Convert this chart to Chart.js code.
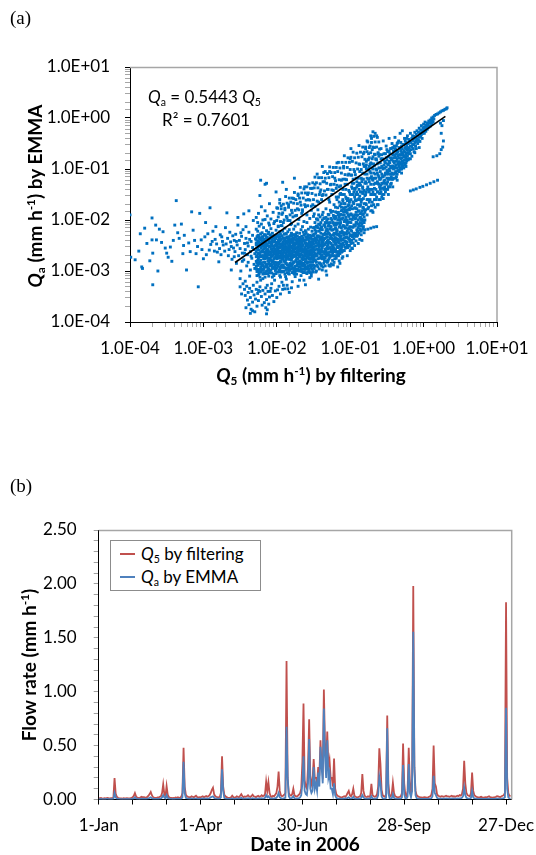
<!DOCTYPE html>
<html><head><meta charset="utf-8">
<script src="https://cdn.jsdelivr.net/npm/chart.js@4"></script>
<style>
html,body{margin:0;padding:0;background:#fff;}
body{width:536px;height:855px;position:relative;overflow:hidden;font-family:Lato,sans-serif;color:#000;}
canvas{position:absolute;left:0;}
#cA{top:0}
#cB{top:440px}
.t{position:absolute;white-space:nowrap;line-height:1;z-index:2;}
.sub{font-size:0.62em;vertical-align:-0.28em;line-height:0;}
.sup{font-size:0.62em;vertical-align:0.55em;line-height:0;}
.panel{font-family:"Liberation Serif",serif;font-size:19px;}
.axt{font-weight:bold;font-size:19px;}
.rot{transform:translate(-50%,-50%) rotate(-90deg);}
.ctr{transform:translate(-50%,-50%);}
.ann{font-size:17px;}
#legend{position:absolute;left:110px;top:540px;width:149px;height:49px;border:1px solid #8c8c8c;background:#fff;z-index:2;font-size:17px;}
#legend .row{position:absolute;left:0;height:20px;width:149px;}
#legend .sw{position:absolute;left:9px;top:9px;width:15px;height:2px;}
#legend .lt{position:absolute;left:30px;top:1px;line-height:1;white-space:nowrap;}
</style></head><body>
<canvas id="cA" width="536" height="440"></canvas>
<canvas id="cB" width="536" height="415"></canvas>

<div class="t panel" style="left:10px;top:8px">(a)</div>
<div class="t ann" style="left:148px;top:88px"><i>Q</i><span class="sub">a</span> = 0.5443 <i>Q</i><span class="sub">5</span></div>
<div class="t ann" style="left:162px;top:111px">R² = 0.7601</div>
<div class="t axt rot" style="left:34px;top:196px"><i>Q</i><span class="sub">a</span> (mm h<span class="sup">-1</span>) by EMMA</div>
<div class="t axt ctr" style="left:311px;top:374px"><i>Q</i><span class="sub">5</span> (mm h<span class="sup">-1</span>) by filtering</div>

<div class="t panel" style="left:10px;top:476px">(b)</div>
<div id="legend">
  <div class="row" style="top:3px"><div class="sw" style="background:#C0504D"></div><div class="lt"><i>Q</i><span class="sub">5</span> by filtering</div></div>
  <div class="row" style="top:26px"><div class="sw" style="background:#4F81BD"></div><div class="lt"><i>Q</i><span class="sub">a</span> by EMMA</div></div>
</div>
<div class="t axt rot" style="left:28px;top:665px">Flow rate (mm h<span class="sup">-1</span>)</div>
<div class="t axt ctr" style="left:305px;top:843px">Date in 2006</div>

<script>
// ---------------- (a) scatter data: log10 values x100 ----------------
const logTickExp = [-4,-3,-2,-1,0,1];
const logTickLabels = ['1.0E-04','1.0E-03','1.0E-02','1.0E-01','1.0E+00','1.0E+01'];
const trendSlope = 0.5443;
const trendQ5 = [0.0027, 1.98];

const leftTail = [-400,-190,-399,-273,-393,-278,-388,-261,-386,-227,-384,-292,-383,-295,-380,-216,-377,-246,-373,-280,-370,-196,-370,-239,-369,-265,-369,-327,-365,-210,-364,-239,-362,-300,-360,-218,-357,-244,-355,-223,-352,-255,-350,-265,-348,-273,-345,-253,-343,-281,-341,-240,-339,-210,-337,-162,-335,-225,-333,-236,-330,-208,-328,-266,-327,-250,-326,-230,-323,-298,-320,-245,-318,-262,-316,-184,-314,-220,-312,-240,-310,-266,-308,-252,-307,-331,-305,-187,-303,-239,-302,-258,-300,-276,-298,-233,-297,-205,-296,-268,-294,-227,-292,-259,-291,-176,-290,-248,-288,-242,-287,-222,-285,-261,-284,-238,-283,-213,-282,-247,-281,-263,-279,-282,-278,-256,-277,-229,-276,-268,-275,-233,-274,-242,-273,-249,-271,-261,-270,-215,-269,-247,-268,-186,-267,-236,-266,-270,-265,-258,-264,-224,-263,-243,-262,-298,-261,-277,-260,-231,-259,-255,-258,-240];

const transition = [-257,-262,-256,-228,-255,-285,-254,-249,-253,-210,-252,-270,-251,-240,-250,-256,-249,-300,-248,-232,-247,-265,-246,-219,-245,-278,-244,-246,-243,-258,-242,-236,-241,-290,-240,-268,-239,-251,-238,-224,-237,-310,-236,-262,-235,-242,-234,-275,-233,-254,-232,-201,-231,-287,-230,-266,-229,-237,-228,-249,-253,-195,-245,-188,-238,-182,-250,-315,-243,-320,-236,-298,-258,-272,-262,-252,-247,-281,-240,-245,-233,-230,-231,-258,-244,-265,-239,-283,-235,-271,-242,-213,-249,-225,-255,-242,-237,-238,-230,-295];

const coreRows = [
[-228,-218,-262,-281,-245],[-227,-233,-270,-301,-256],[-226,-241,-222,-289,-265],[-225,-250,-275,-230,-338],
[-224,-259,-212,-284,-243],[-223,-268,-236,-297,-251],[-222,-227,-279,-246,-318],[-221,-255,-208,-272,-236],
[-220,-244,-288,-262,-225],[-219,-271,-233,-250,-306],[-218,-238,-263,-283,-215],[-217,-256,-229,-292,-247],
[-216,-266,-242,-276,-199],[-215,-231,-253,-305,-270],[-214,-248,-287,-221,-261],[-213,-258,-234,-273,-328],
[-212,-239,-266,-251,-294],[-211,-275,-224,-283,-245],[-210,-252,-210,-268,-237],[-209,-263,-243,-299,-229],
[-208,-234,-278,-256,-217],[-207,-247,-289,-262,-271],[-206,-226,-258,-240,-312],[-205,-269,-235,-280,-251],
[-204,-243,-207,-264,-293],[-203,-257,-230,-274,-241],[-202,-237,-267,-250,-283],[-201,-262,-220,-288,-246],
[-200,-249,-276,-232,-260],[-199,-229,-255,-302,-268],[-198,-272,-240,-258,-213],[-197,-244,-286,-235,-265],
[-196,-254,-223,-271,-296],[-195,-238,-261,-247,-280],[-194,-266,-211,-252,-238],[-193,-231,-277,-259,-302],
[-192,-250,-243,-268,-222],[-191,-274,-236,-256,-290],[-190,-241,-262,-228,-281],[-189,-259,-216,-248,-271],
[-188,-235,-279,-264,-245],[-187,-268,-227,-252,-297],[-186,-246,-288,-234,-260],[-185,-223,-256,-275,-241],
[-184,-261,-238,-292,-250],[-183,-243,-270,-219,-264],[-182,-277,-248,-232,-285],[-181,-253,-209,-266,-240],
[-180,-237,-261,-279,-226],[-179,-266,-244,-255,-303],[-178,-229,-272,-249,-236],[-177,-258,-218,-283,-262],
[-176,-245,-268,-238,-294],[-175,-271,-233,-256,-212],[-174,-239,-279,-262,-247],[-173,-254,-225,-290,-268],
[-172,-232,-262,-246,-275],[-171,-265,-208,-252,-286],[-170,-248,-271,-237,-259],[-169,-226,-256,-281,-242],
[-168,-260,-235,-267,-299],[-167,-242,-283,-219,-254],[-166,-269,-246,-232,-276],[-165,-251,-213,-263,-288],
[-164,-236,-272,-249,-224],[-163,-258,-240,-285,-262],[-162,-228,-266,-245,-270],[-161,-263,-221,-254,-293],
[-160,-246,-277,-234,-258],[-159,-272,-250,-205,-264],[-158,-237,-260,-283,-229],[-157,-255,-218,-247,-274],
[-156,-241,-269,-261,-236],[-155,-266,-230,-288,-252],[-154,-249,-214,-258,-277],[-153,-232,-264,-243,-292],
[-152,-259,-238,-272,-222],[-151,-244,-283,-229,-256],[-150,-268,-247,-215,-262]];

const coreRowsDense = [
[-228,-272,-291,-238],[-227,-248,-284,-309],[-226,-297,-255,-231],[-225,-266,-286,-244],[-224,-301,-272,-233],
[-223,-246,-282,-312],[-222,-263,-293,-239],[-221,-285,-248,-302],[-220,-270,-233,-296],[-219,-289,-259,-242],
[-218,-251,-297,-276],[-217,-273,-238,-305],[-216,-292,-255,-229],[-215,-262,-287,-245],[-214,-274,-300,-236],
[-213,-249,-291,-268],[-212,-280,-227,-305],[-211,-262,-296,-241],[-210,-286,-252,-303],[-209,-277,-236,-290],
[-208,-298,-266,-244],[-207,-257,-232,-304],[-206,-283,-269,-251],[-205,-295,-243,-263],[-204,-276,-254,-306],
[-203,-289,-262,-234],[-202,-299,-258,-274],[-201,-271,-236,-296],[-200,-285,-265,-244],[-199,-246,-284,-275],
[-198,-291,-263,-231],[-197,-270,-299,-252],[-196,-241,-283,-309],[-195,-274,-293,-228],[-194,-282,-263,-300],
[-193,-248,-289,-271],[-192,-293,-256,-235],[-191,-264,-301,-247],[-190,-293,-271,-253],[-189,-281,-237,-306],
[-188,-254,-294,-227],[-187,-285,-241,-274],[-186,-271,-303,-257],[-185,-296,-263,-233],[-184,-277,-305,-244],
[-183,-254,-288,-299],[-182,-265,-298,-241],[-181,-286,-274,-230],[-180,-252,-296,-268],[-179,-288,-231,-274],
[-178,-294,-258,-240],[-177,-271,-300,-245],[-176,-282,-256,-229],[-175,-248,-291,-302],[-174,-297,-266,-228],
[-173,-244,-277,-306],[-172,-288,-255,-238],[-171,-276,-297,-241],[-170,-292,-259,-283],[-169,-268,-300,-234],
[-168,-281,-248,-251],[-167,-296,-266,-238],[-166,-258,-289,-301],[-165,-276,-240,-296],[-164,-290,-262,-303],
[-163,-271,-230,-296],[-162,-289,-255,-303],[-161,-276,-240,-282],[-160,-293,-267,-225],[-159,-285,-238,-296],
[-158,-271,-302,-249],[-157,-290,-233,-266],[-156,-282,-299,-252],[-155,-245,-274,-303],[-154,-268,-293,-236],
[-153,-282,-253,-305],[-152,-296,-249,-265],[-151,-270,-301,-238],[-150,-289,-231,-276]];

const coreFill = [
[-226,-258,-279],[-224,-236,-266],[-222,-287,-252],[-220,-261,-298],[-218,-270,-245],[-216,-250,-283],[-214,-292,-264],
[-212,-258,-275],[-210,-280,-243],[-208,-249,-272],[-206,-293,-262],[-204,-233,-285],[-202,-264,-292],[-200,-253,-270],
[-198,-284,-247],[-196,-262,-233],[-194,-290,-273],[-192,-276,-258],[-190,-247,-300],[-188,-270,-285],[-186,-255,-296],
[-184,-268,-235],[-182,-290,-258],[-180,-272,-243],[-178,-285,-262],[-176,-251,-299],[-174,-271,-232],[-172,-283,-260],
[-170,-246,-266],[-168,-292,-272],[-166,-256,-284],[-164,-278,-241],[-162,-297,-259],[-160,-250,-282],[-158,-266,-292],
[-156,-276,-245],[-154,-288,-262],[-152,-247,-276],[-150,-280,-253],
[-148,-220,-266],[-146,-244,-212],[-144,-259,-200],[-142,-233,-284],[-140,-215,-262],[-138,-250,-190],[-136,-239,-276],
[-134,-205,-262],[-132,-228,-281],[-130,-248,-198],[-128,-218,-273],[-126,-236,-185],[-124,-205,-256],[-122,-262,-195],
[-120,-235,-206],[-118,-219,-262],[-116,-190,-238],[-114,-224,-200],[-112,-182,-256],[-110,-245,-190],[-108,-212,-168],
[-106,-226,-184],[-104,-200,-250],[-102,-178,-215],[-100,-190,-230]];

const coreEdges = [-228,-195,-225,-187,-221,-174,-219,-200,-216,-182,-213,-192,-210,-168,-208,-198,-205,-185,-203,-203,-200,-176,-198,-194,-196,-160,-193,-189,-191,-205,-189,-180,-186,-196,-184,-170,-182,-201,-179,-186,-177,-158,-175,-192,-172,-178,-170,-199,-168,-165,-166,-187,-163,-203,-161,-174,-159,-190,-157,-160,-155,-197,-153,-181,-151,-170,-150,-193,-226,-205,-211,-206,-194,-172,-180,-207,-165,-180,-158,-150,-223,-152,-201,-145,-187,-140,-171,-152,-152,-138,-214,-128,-192,-126,-176,-118,-162,-135,
-227,-322,-223,-340,-219,-315,-215,-333,-211,-310,-207,-325,-203,-318,-199,-337,-195,-312,-191,-328,-187,-316,-183,-306,-179,-321,-175,-311,-171,-330,-167,-309,-163,-318,-159,-305,-155,-313,-151,-302,-225,-308,-217,-303,-209,-340,-201,-305,-193,-322,-185,-335,-177,-304,-169,-318,-161,-327,-153,-310,
-228,-296,-224,-305,-220,-290,-216,-312,-212,-298,-208,-287,-204,-309,-200,-294,-196,-302,-192,-288,-188,-311,-184,-296,-180,-291,-176,-306,-172,-299,-168,-287,-164,-303,-160,-292,-156,-297,-152,-289];

const aboveLine = [-200,-201,-199,-177,-198,-212,-197,-187,-196,-167,-195,-203,-194,-178,-193,-211,-192,-186,-191,-169,-190,-200,-189,-177,-188,-154,-187,-193,-186,-167,-185,-201,-184,-175,-183,-157,-182,-190,-181,-165,-180,-181,-179,-157,-178,-194,-177,-167,-176,-146,-175,-181,-174,-160,-173,-191,-172,-168,-171,-149,-170,-180,-169,-157,-168,-136,-167,-171,-166,-147,-165,-183,-164,-157,-163,-139,-162,-170,-161,-147,-160,-161,-159,-135,-158,-172,-157,-147,-156,-129,-155,-161,-154,-138,-153,-173,-152,-148,-151,-127,-150,-160,-149,-137,-148,-116,-147,-151,-146,-127,-145,-163,-144,-137,-143,-117,-142,-150,-141,-129,-140,-141,-139,-117,-138,-152,-137,-125,-136,-107,-135,-143,-134,-118,-133,-151,-132,-128,-131,-109,-130,-140,-129,-117,-128,-96,-127,-131,-126,-107,-125,-141,-124,-115,-123,-97,-122,-130,-121,-107,-120,-123,-119,-97,-118,-132,-117,-105,-116,-87,-115,-121,-114,-98,-113,-133,-112,-108,-111,-87,-110,-120,-109,-95,-108,-74,-107,-111,-106,-87,-105,-121,-104,-97,-103,-78,-102,-110,-101,-87,-100,-101,-99,-77,-98,-112,-97,-85,-96,-67,-95,-101,-94,-78,-93,-111,-92,-88,-91,-69,-90,-100,-89,-77,-88,-54,-87,-91,-86,-67,-85,-101,-84,-76,-83,-57,-82,-90,-81,-67,-80,-81,-79,-57,-78,-92,-77,-66,-76,-47,-75,-81,-74,-58,-73,-91,-72,-68,-71,-48,-70,-80,-69,-57,-68,-36,-67,-71,-66,-47,-65,-81,-64,-57,-63,-38,-62,-70,-61,-47,-60,-61];

const drip = [-246,-325,-244,-336,-243,-348,-241,-330,-240,-357,-239,-342,-238,-366,-237,-334,-236,-352,-235,-375,-234,-340,-233,-361,-232,-328,-231,-347,-230,-380,-229,-355,-228,-336,-227,-369,-226,-344,-225,-358,-223,-331,-221,-350,-219,-338,-217,-362,-216,-345,-215,-372,-214,-356,-213,-376,-212,-340,-211,-365,-210,-351,-208,-334,-206,-348,-204,-360,-202,-339,-200,-352,-197,-330,-195,-345,-192,-336,-189,-335,-186,-328,-183,-342,-180,-333,-242,-372,-236,-383,-233,-378,-220,-367,-214,-384,-248,-345,-250,-331];

const midRows = [
[-149,-215,-262,-188,-295],[-148,-240,-173,-278],[-147,-226,-251,-302],[-146,-198,-270,-235],[-145,-257,-212,-289],
[-144,-231,-180,-264],[-143,-246,-208,-316],[-142,-222,-275,-253],[-141,-266,-194,-238],[-140,-205,-249,-287],
[-139,-237,-160,-260],[-138,-255,-219,-298],[-137,-185,-243,-272],[-136,-229,-263,-210],[-135,-248,-196,-281],
[-134,-214,-257,-236],[-133,-270,-178,-245],[-132,-201,-233,-308],[-131,-252,-221,-264],[-130,-189,-240,-279],
[-129,-226,-268,-207],[-128,-244,-165,-255],[-127,-212,-236,-290],[-126,-259,-197,-231],[-125,-220,-249,-270],
[-124,-183,-238,-262],[-123,-206,-254,-229],[-122,-242,-170,-283],[-121,-218,-260,-235],[-120,-193,-227,-248],
[-119,-236,-275,-209],[-118,-253,-186,-222],[-117,-200,-240,-266],[-116,-229,-155,-251],[-115,-214,-245,-280],
[-114,-190,-233,-258],[-113,-247,-205,-226],[-112,-175,-238,-263],[-111,-221,-252,-198],[-110,-239,-211,-272],
[-109,-184,-230,-249],[-108,-260,-203,-225],[-107,-216,-242,-168],[-106,-195,-234,-255],[-105,-228,-181,-247],
[-104,-209,-243,-270],[-103,-236,-190,-218],[-102,-162,-225,-251],[-101,-204,-238,-180],[-100,-231,-213,-260],
[-99,-188,-246,-220],[-98,-222,-172,-240],[-97,-199,-233,-256],[-96,-214,-150,-245],[-95,-237,-193,-226],
[-94,-177,-210,-250],[-93,-226,-198,-160],[-92,-205,-241,-185],[-91,-191,-219,-232],[-90,-230,-170,-208],
[-89,-183,-215,-246],[-88,-211,-158,-226],[-87,-196,-238,-173],[-86,-220,-188,-205],[-85,-165,-229,-199],
[-84,-207,-182,-240],[-83,-190,-148,-218],[-82,-213,-176,-201],[-81,-168,-225,-194],[-80,-200,-185,-152]];

const midRowsDense = [
[-149,-228,-272,-253],[-148,-205,-290,-236],[-147,-267,-214,-245],[-146,-251,-283,-222],[-145,-239,-270,-198],
[-144,-276,-215,-292],[-143,-233,-258,-190],[-142,-262,-241,-296],[-141,-209,-285,-250],[-140,-258,-226,-274],
[-139,-214,-268,-245],[-138,-276,-233,-200],[-137,-228,-292,-262],[-136,-249,-197,-273],[-135,-266,-236,-210],
[-134,-290,-226,-247],[-133,-221,-260,-195],[-132,-269,-244,-218],[-131,-206,-283,-234],[-130,-257,-212,-268],
[-129,-243,-190,-289],[-128,-228,-263,-205],[-127,-254,-181,-271],[-126,-214,-246,-286],[-125,-236,-200,-258],
[-124,-265,-219,-279],[-123,-191,-240,-270],[-122,-255,-210,-226],[-121,-198,-276,-240],[-120,-215,-258,-184],
[-119,-246,-196,-263],[-118,-207,-270,-228],[-117,-228,-176,-254],[-116,-243,-206,-270],[-115,-195,-230,-252],
[-114,-266,-210,-172],[-113,-189,-232,-260],[-112,-215,-198,-248],[-111,-237,-181,-262],[-110,-196,-225,-163],
[-109,-212,-260,-176],[-108,-190,-236,-150],[-107,-253,-200,-183],[-106,-175,-215,-243],[-105,-204,-158,-234],
[-104,-186,-222,-162],[-103,-254,-205,-172],[-102,-193,-142,-235],[-101,-217,-165,-250],[-100,-176,-198,-242],
[-99,-205,-160,-230],[-98,-190,-150,-255],[-97,-178,-214,-138],[-96,-195,-230,-165],[-95,-168,-210,-128],
[-94,-190,-155,-232],[-93,-176,-212,-138],[-92,-162,-228,-196],[-91,-178,-145,-205],[-90,-190,-132,-222],
[-89,-160,-200,-118],[-88,-182,-140,-208],[-87,-153,-218,-128],[-86,-170,-132,-195],[-85,-145,-186,-212],
[-84,-160,-125,-198],[-83,-175,-138,-202],[-82,-158,-120,-188],[-81,-142,-180,-205]];

const midExtra = [-149,-240,-147,-280,-145,-232,-143,-265,-141,-218,-139,-290,-137,-250,-135,-228,-133,-300,-131,-242,-129,-276,-127,-230,-125,-262,-123,-288,-121,-245,-119,-225,-117,-292,-115,-262,-113,-240,-111,-275,
-148,-258,-146,-300,-144,-249,-142,-233,-140,-270,-138,-242,-136,-285,-134,-275,-132,-255,-130,-225,-128,-290,-126,-270,-124,-250,-122,-230,-120,-270,-118,-240,-116,-268,-114,-285,-112,-250,
-148,-130,-145,-110,-141,-145,-138,-95,-135,-125,-131,-140,-128,-105,-125,-150,-121,-118,-118,-88,-115,-135,-112,-122,-109,-98,-106,-140,-103,-112,-100,-80,-97,-128,-94,-105,-91,-135,-88,-90,-85,-118,-82,-70,-80,-128,-143,-165,-137,-150,-129,-160,-123,-142,-119,-155,-113,-148,-107,-130,-101,-145,-96,-120,-92,-150,-89,-132,-86,-145,-83,-108,-110,-160,-126,-130,-134,-105,-99,-60,
-120,-175,-118,-160,-116,-185,-114,-150,-112,-168,-110,-140,-108,-178,-106,-155,-104,-130,-102,-170,-100,-150,-98,-135,-96,-165,-94,-140,-92,-118,-90,-150,-88,-128,-86,-160,-84,-120,-82,-145,-80,-110,-119,-138,-115,-165,-111,-150,-107,-120,-103,-158,-99,-112,-95,-145,-91,-125,-87,-105,-83,-135,-81,-95];

const bandRows = [
[-79,-150,-95,-180,-60],[-78,-128,-170,-85],[-77,-110,-190,-140,-45],[-76,-135,-100,-160],[-75,-120,-175,-70],
[-74,-145,-95,-125],[-73,-105,-160,-55],[-72,-130,-182,-88],[-71,-115,-150,-40],[-70,-140,-98,-165],
[-69,-122,-76,-185],[-68,-108,-150,-130],[-67,-93,-160,-58],[-66,-128,-110,-175],[-65,-140,-80,-118],
[-64,-102,-155,-35],[-63,-125,-90,-170],[-62,-112,-145,-68],[-61,-98,-130,-160],[-60,-120,-72,-148],
[-59,-105,-140,-88],[-58,-132,-60,-118],[-57,-95,-155,-110],[-56,-115,-80,-138],[-55,-100,-128,-45],
[-54,-124,-92,-150],[-53,-85,-112,-135],[-52,-108,-70,-128],[-51,-96,-140,-55],[-50,-118,-82,-103],
[-49,-90,-125,-66],[-48,-110,-76,-135],[-47,-85,-100,-40],[-46,-104,-120,-70],[-45,-78,-95,-130],
[-44,-98,-60,-115],[-43,-82,-108,-50],[-42,-94,-72,-120],[-41,-65,-100,-85],[-40,-88,-110,-55],
[-39,-75,-96,-38],[-38,-92,-62,-105],[-37,-70,-85,-115],[-36,-80,-50,-98],[-35,-66,-90,-75],
[-34,-86,-102,-45],[-33,-58,-78,-95],[-32,-72,-88,-30],[-31,-64,-100,-80],[-30,-78,-55,-90],
[-29,-60,-85,-25],[-28,-70,-95],[-27,-52,-76,-88],[-26,-66,-40,-82],[-25,-58,-92],
[-24,-70,-48,-78],[-23,-55,-84],[-22,-62,-35,-74],[-21,-50,-68],[-20,-58,-80,-42],
[-19,-46,-64],[-18,-55,-30,-70],[-17,-48,-62],[-16,-40,-56,-75],[-15,-52,-35],
[-14,-44,-60],[-13,-36,-52,-66],[-12,-48,-28],[-11,-40,-55],[-10,-32,-46,-60],
[-9,-42,-25],[-8,-36,-50],[-7,-28,-44],[-6,-38,-20],[-5,-30,-46],[-4,-24,-36],[-3,-32,-15],[-2,-26,-40],[-1,-20,-30],
[0,-24,-12],[1,-18,-30],[2,-22,-8],[3,-14,-26],[4,-18],[5,-10,-22],[6,-14],[7,-6,-18],[8,-10],[9,-4,-16],
[10,-8],[11,0,-12],[12,-4],[13,2,-8],[14,-2],[15,5],[17,7],[19,8],[21,10],[23,12],[25,14],[27,15],[29,17],[31,18],[32,20]];

const bandRowsDense = [
[-79,-125,-168],[-78,-100,-145],[-77,-160,-118],[-76,-82,-178],[-75,-140,-102],[-74,-165,-78],[-73,-118,-140],
[-72,-150,-108],[-71,-90,-172],[-70,-120,-62],[-69,-145,-100],[-68,-170,-90],[-67,-118,-138],[-66,-72,-150],
[-65,-100,-160],[-64,-128,-82],[-63,-145,-108],[-62,-88,-128],[-61,-115,-75],[-60,-135,-98],[-59,-120,-160],
[-58,-80,-145],[-57,-128,-72],[-56,-98,-150],[-55,-115,-82],[-54,-140,-70],[-53,-98,-122],[-52,-88,-145],
[-51,-110,-78],[-50,-130,-62],[-49,-105,-140],[-48,-92,-120],[-47,-118,-65],[-46,-88,-135],[-45,-110,-60],
[-44,-82,-128],[-43,-96,-120],[-42,-110,-58],[-41,-78,-118],[-40,-98,-72],[-39,-108,-60],[-38,-78,-118],
[-37,-98,-55],[-36,-65,-110],[-35,-104,-48],[-34,-72,-92],[-33,-86,-105],[-32,-60,-98],[-31,-90,-48],
[-30,-68,-100],[-29,-72,-95],[-28,-52,-84],[-27,-64,-98],[-26,-74,-90],[-25,-45,-76],[-24,-60,-88],
[-23,-68,-40],[-22,-50,-80],[-21,-60,-82],[-20,-48,-70]];

const arms = [-18,-143,-14,-141,-10,-139,-5,-136,-1,-134,4,-131,9,-128,14,-125,19,-122,
-100,-229,-95,-227,-90,-224,-85,-222,-80,-219,-76,-218,-72,-216,-68,-214,-64,-213,
23,-10,25,-15,27,-5,13,-76,18,-74,22,-70,24,-62,26,-57,27,-45,24,-30,
-69,-27,-66,-30,-72,-35,-222,-122,-216,-130,
-70,-182,-62,-170,-55,-158,-48,-150,-42,-135,-36,-122,-30,-108,-24,-95,-18,-80,-12,-68,-6,-58];

// ---------------- (b) time series: daily values (mm h-1), day 0 = 1-Jan-2006 ----------------
const dateTickMarks = [0,30,60,90,120,150,180,210,240,270,300,330,360];
const dateTickDays = [0,90,180,270,360];
const dateTickLabels = ['1-Jan','1-Apr','30-Jun','28-Sep','27-Dec'];
const flowTickValues = [0,0.5,1,1.5,2,2.5];
const flowTickLabels = ['0.00','0.50','1.00','1.50','2.00','2.50'];

const q5Filtering = [
0.012,0.010,0.015,0.011,0.009,0.013,0.010,0.012,0.014,0.011,
0.010,0.013,0.012,0.018,0.200,0.055,0.025,0.016,0.012,0.011,
0.010,0.009,0.012,0.011,0.010,0.013,0.011,0.010,0.012,0.015,
0.020,0.035,0.060,0.030,0.018,0.014,0.012,0.020,0.025,0.018,
0.022,0.015,0.019,0.024,0.035,0.050,0.070,0.040,0.022,0.018,
0.016,0.014,0.020,0.018,0.025,0.030,0.060,0.140,0.050,0.030,
0.125,0.045,0.022,0.016,0.014,0.012,0.015,0.013,0.018,0.016,
0.020,0.015,0.018,0.025,0.060,0.480,0.120,0.045,0.030,0.025,
0.022,0.018,0.030,0.025,0.020,0.028,0.035,0.024,0.018,0.022,
0.020,0.025,0.030,0.022,0.027,0.032,0.025,0.030,0.040,0.060,
0.090,0.110,0.050,0.030,0.025,0.022,0.020,0.024,0.060,0.400,
0.120,0.045,0.030,0.022,0.018,0.016,0.015,0.020,0.035,0.022,
0.018,0.020,0.030,0.025,0.022,0.035,0.050,0.030,0.022,0.028,
0.025,0.030,0.040,0.028,0.024,0.032,0.045,0.030,0.026,0.022,
0.030,0.035,0.025,0.028,0.040,0.030,0.035,0.050,0.165,0.080,
0.160,0.060,0.030,0.025,0.035,0.030,0.045,0.060,0.120,0.260,
0.080,0.040,0.030,0.035,0.045,0.060,1.285,0.200,0.060,0.040,
0.035,0.050,0.100,0.040,0.030,0.028,0.035,0.045,0.060,0.100,
0.350,0.890,0.180,0.120,0.100,0.300,0.745,0.220,0.140,0.180,
0.375,0.200,0.200,0.150,0.300,0.220,0.550,0.300,0.250,1.020,
0.500,0.350,0.630,0.300,0.365,0.200,0.200,0.120,0.380,0.100,
0.050,0.035,0.030,0.025,0.022,0.020,0.025,0.030,0.025,0.040,
0.060,0.080,0.040,0.030,0.050,0.100,0.035,0.025,0.022,0.020,
0.025,0.030,0.060,0.235,0.080,0.035,0.025,0.022,0.030,0.025,
0.035,0.145,0.040,0.030,0.025,0.030,0.050,0.120,0.475,0.330,
0.090,0.040,0.030,0.025,0.050,0.780,0.150,0.040,0.030,0.050,
0.155,0.060,0.030,0.025,0.020,0.022,0.025,0.030,0.060,0.520,
0.150,0.040,0.030,0.080,0.480,0.150,0.060,0.200,1.980,0.300,
0.080,0.040,0.030,0.025,0.022,0.020,0.018,0.020,0.022,0.020,
0.018,0.020,0.025,0.030,0.045,0.100,0.500,0.150,0.120,0.050,
0.035,0.030,0.025,0.030,0.028,0.025,0.030,0.035,0.030,0.028,
0.025,0.030,0.035,0.028,0.030,0.025,0.030,0.035,0.030,0.040,
0.035,0.050,0.100,0.360,0.150,0.060,0.040,0.035,0.030,0.060,
0.250,0.080,0.040,0.030,0.025,0.022,0.020,0.022,0.025,0.020,
0.018,0.020,0.022,0.020,0.025,0.030,0.022,0.020,0.018,0.020,
0.022,0.025,0.030,0.028,0.025,0.022,0.030,0.035,0.040,0.060,
1.830,0.200,0.060,0.035,0.030];

const qaEMMA = [
0.004,0.004,0.005,0.004,0.003,0.004,0.004,0.005,0.005,0.004,
0.004,0.005,0.004,0.006,0.060,0.020,0.008,0.006,0.005,0.004,
0.004,0.003,0.004,0.004,0.004,0.005,0.004,0.004,0.004,0.005,
0.006,0.010,0.020,0.010,0.006,0.005,0.004,0.006,0.008,0.006,
0.007,0.005,0.006,0.008,0.010,0.015,0.020,0.012,0.007,0.006,
0.005,0.005,0.006,0.006,0.008,0.010,0.020,0.040,0.020,0.010,
0.040,0.015,0.007,0.005,0.005,0.004,0.005,0.004,0.006,0.005,
0.006,0.005,0.006,0.008,0.020,0.350,0.060,0.015,0.010,0.008,
0.007,0.006,0.009,0.008,0.006,0.008,0.010,0.007,0.006,0.007,
0.006,0.008,0.009,0.007,0.008,0.010,0.008,0.009,0.012,0.020,
0.025,0.030,0.015,0.009,0.008,0.007,0.006,0.007,0.020,0.280,
0.080,0.015,0.009,0.007,0.006,0.005,0.005,0.006,0.010,0.007,
0.006,0.006,0.009,0.008,0.007,0.010,0.015,0.009,0.007,0.008,
0.008,0.009,0.012,0.008,0.007,0.009,0.013,0.009,0.008,0.007,
0.009,0.010,0.008,0.008,0.012,0.009,0.010,0.015,0.040,0.020,
0.030,0.015,0.009,0.008,0.010,0.009,0.012,0.015,0.030,0.060,
0.020,0.012,0.009,0.010,0.012,0.015,0.675,0.200,0.030,0.012,
0.010,0.015,0.030,0.012,0.009,0.008,0.010,0.012,0.020,0.040,
0.150,0.400,0.080,0.050,0.040,0.150,0.560,0.100,0.060,0.080,
0.300,0.100,0.150,0.080,0.250,0.120,0.490,0.300,0.150,0.845,
0.400,0.200,0.550,0.200,0.250,0.100,0.100,0.050,0.150,0.040,
0.015,0.010,0.009,0.008,0.007,0.006,0.007,0.009,0.008,0.010,
0.015,0.020,0.010,0.008,0.012,0.025,0.009,0.007,0.006,0.006,
0.007,0.008,0.015,0.040,0.020,0.009,0.007,0.006,0.008,0.007,
0.009,0.030,0.010,0.008,0.007,0.008,0.012,0.040,0.210,0.150,
0.030,0.010,0.008,0.007,0.015,0.660,0.060,0.012,0.008,0.012,
0.050,0.015,0.008,0.007,0.006,0.006,0.007,0.008,0.020,0.320,
0.050,0.012,0.008,0.025,0.330,0.060,0.020,0.080,1.556,0.300,
0.040,0.012,0.008,0.007,0.006,0.006,0.005,0.006,0.006,0.006,
0.005,0.006,0.007,0.008,0.012,0.030,0.220,0.060,0.040,0.015,
0.010,0.008,0.007,0.008,0.008,0.007,0.008,0.010,0.008,0.008,
0.007,0.008,0.010,0.008,0.008,0.007,0.008,0.010,0.008,0.010,
0.010,0.015,0.030,0.110,0.040,0.015,0.010,0.009,0.008,0.015,
0.080,0.020,0.010,0.008,0.007,0.006,0.006,0.006,0.007,0.006,
0.005,0.006,0.006,0.006,0.007,0.008,0.006,0.006,0.005,0.006,
0.006,0.007,0.008,0.008,0.007,0.006,0.008,0.010,0.012,0.020,
0.850,0.100,0.020,0.010,0.008];

// ---------------- build ----------------
function addPairs(out, arr){ for (let i=0;i<arr.length;i+=2) out.push({x:Math.pow(10,arr[i]/100), y:Math.pow(10,arr[i+1]/100)}); }
function addRows(out, rows){ rows.forEach(r=>{ for (let j=1;j<r.length;j++) out.push({x:Math.pow(10,r[0]/100), y:Math.pow(10,r[j]/100)}); }); }
const scatterPts = [];
addPairs(scatterPts, leftTail); addPairs(scatterPts, transition);
addRows(scatterPts, coreRows); addRows(scatterPts, coreRowsDense); addRows(scatterPts, coreFill);
addPairs(scatterPts, coreEdges); addPairs(scatterPts, aboveLine); addPairs(scatterPts, drip);
addRows(scatterPts, midRows); addRows(scatterPts, midRowsDense); addPairs(scatterPts, midExtra);
addRows(scatterPts, bandRows); addRows(scatterPts, bandRowsDense); addPairs(scatterPts, arms);
const trendPts = trendQ5.map(x=>({x:x, y:trendSlope*x}));

function isPow10(v){ if(!(v>0)) return false; const l=Math.log10(v); return Math.abs(l-Math.round(l))<1e-6; }
function logLabel(v){ if(!isPow10(v)) return ''; const k=logTickExp.indexOf(Math.round(Math.log10(v))); return k>=0?logTickLabels[k]:''; }

const frame = { id:'frame', beforeDatasetsDraw(c){ const ctx=c.ctx, a=c.chartArea; ctx.save(); ctx.strokeStyle='#A6A6A6'; ctx.lineWidth=1.5; ctx.beginPath(); ctx.moveTo(a.left,a.top+0.5); ctx.lineTo(a.right,a.top+0.5); ctx.lineTo(a.right,a.bottom); ctx.stroke(); ctx.restore(); } };

const tickFont = {family:'Lato', size:17};

function draw(){
  new Chart(document.getElementById('cA'), {
    type:'scatter',
    data:{datasets:[
      {type:'line', data:trendPts, borderColor:'#000', borderWidth:1.6, pointRadius:0, fill:false},
      {data:scatterPts, pointStyle:'rect', pointRadius:2.05, backgroundColor:'#0070C0', borderWidth:0}
    ]},
    options:{
      responsive:false, animation:false, events:[],
      layout:{padding:{left:0, top:67, right:39, bottom:78}},
      plugins:{legend:{display:false}, tooltip:{enabled:false}},
      scales:{
        x:{type:'logarithmic', min:1e-4, max:10, position:'bottom',
           afterFit(s){ s.height=40; s.paddingLeft=0; s.paddingRight=0; },
           grid:{drawOnChartArea:false, drawTicks:true, tickLength:5,
                 color:c=>isPow10(c.tick&&c.tick.value)?'#000':'#A6A6A6',
                 tickColor:c=>isPow10(c.tick&&c.tick.value)?'#000':'#A6A6A6'},
           border:{display:true, color:'#000', width:1},
           ticks:{autoSkip:false, maxRotation:0, minRotation:0, padding:11, font:tickFont, color:'#000', callback:v=>logLabel(v)}},
        y:{type:'logarithmic', min:1e-4, max:10, position:'left',
           afterFit(s){ s.width=130; s.paddingTop=0; s.paddingBottom=0; },
           grid:{drawOnChartArea:false, drawTicks:true, tickLength:5,
                 color:c=>isPow10(c.tick&&c.tick.value)?'#000':'#A6A6A6',
                 tickColor:c=>isPow10(c.tick&&c.tick.value)?'#000':'#A6A6A6'},
           border:{display:true, color:'#000', width:1},
           ticks:{autoSkip:false, padding:15, font:tickFont, color:'#000', callback:v=>logLabel(v)}}
      }
    },
    plugins:[frame]
  });

  const redPts = q5Filtering.map((v,i)=>({x:i, y:v}));
  const bluePts = qaEMMA.map((v,i)=>({x:i, y:v}));
  new Chart(document.getElementById('cB'), {
    type:'line',
    data:{datasets:[
      {label:'Qa by EMMA', data:bluePts, borderColor:'#4F81BD', borderWidth:1.8, pointRadius:0, fill:false, tension:0},
      {label:'Q5 by filtering', data:redPts, borderColor:'#C0504D', borderWidth:1.8, pointRadius:0, fill:false, tension:0}
    ]},
    options:{
      responsive:false, animation:false, events:[],
      layout:{padding:{left:0, top:90, right:24.3, bottom:15.5}},
      plugins:{legend:{display:false}, tooltip:{enabled:false}},
      scales:{
        x:{type:'linear', min:0, max:365, position:'bottom',
           afterBuildTicks(s){ s.ticks = dateTickMarks.map(v=>({value:v})); },
           afterFit(s){ s.height=40; s.paddingLeft=0; s.paddingRight=0; },
           grid:{drawOnChartArea:false, drawTicks:true, tickLength:5, color:'#000', tickColor:'#000'},
           border:{display:true, color:'#000', width:1},
           ticks:{autoSkip:false, maxRotation:0, minRotation:0, padding:11, font:tickFont, color:'#000',
                  callback:v=>{ const k=dateTickDays.indexOf(Math.round(v)); return k>=0?dateTickLabels[k]:''; }}},
        y:{type:'linear', min:0, max:2.5, position:'left',
           afterFit(s){ s.width=98.7; s.paddingTop=0; s.paddingBottom=0; },
           grid:{drawOnChartArea:false, drawTicks:true, tickLength:5, color:'#A0A0A0', tickColor:'#A0A0A0'},
           border:{display:true, color:'#000', width:1},
           ticks:{stepSize:0.1, autoSkip:false, padding:17, font:tickFont, color:'#000',
                  callback:v=>{ const k=flowTickValues.findIndex(t=>Math.abs(t-v)<1e-6); return k>=0?flowTickLabels[k]:''; }}}
      }
    },
    plugins:[frame]
  });
}
const fl = document.fonts ? Promise.all([document.fonts.load('17px Lato'), document.fonts.load('bold 19px Lato')]) : Promise.resolve();
fl.then(draw, draw);
</script>
</body></html>
